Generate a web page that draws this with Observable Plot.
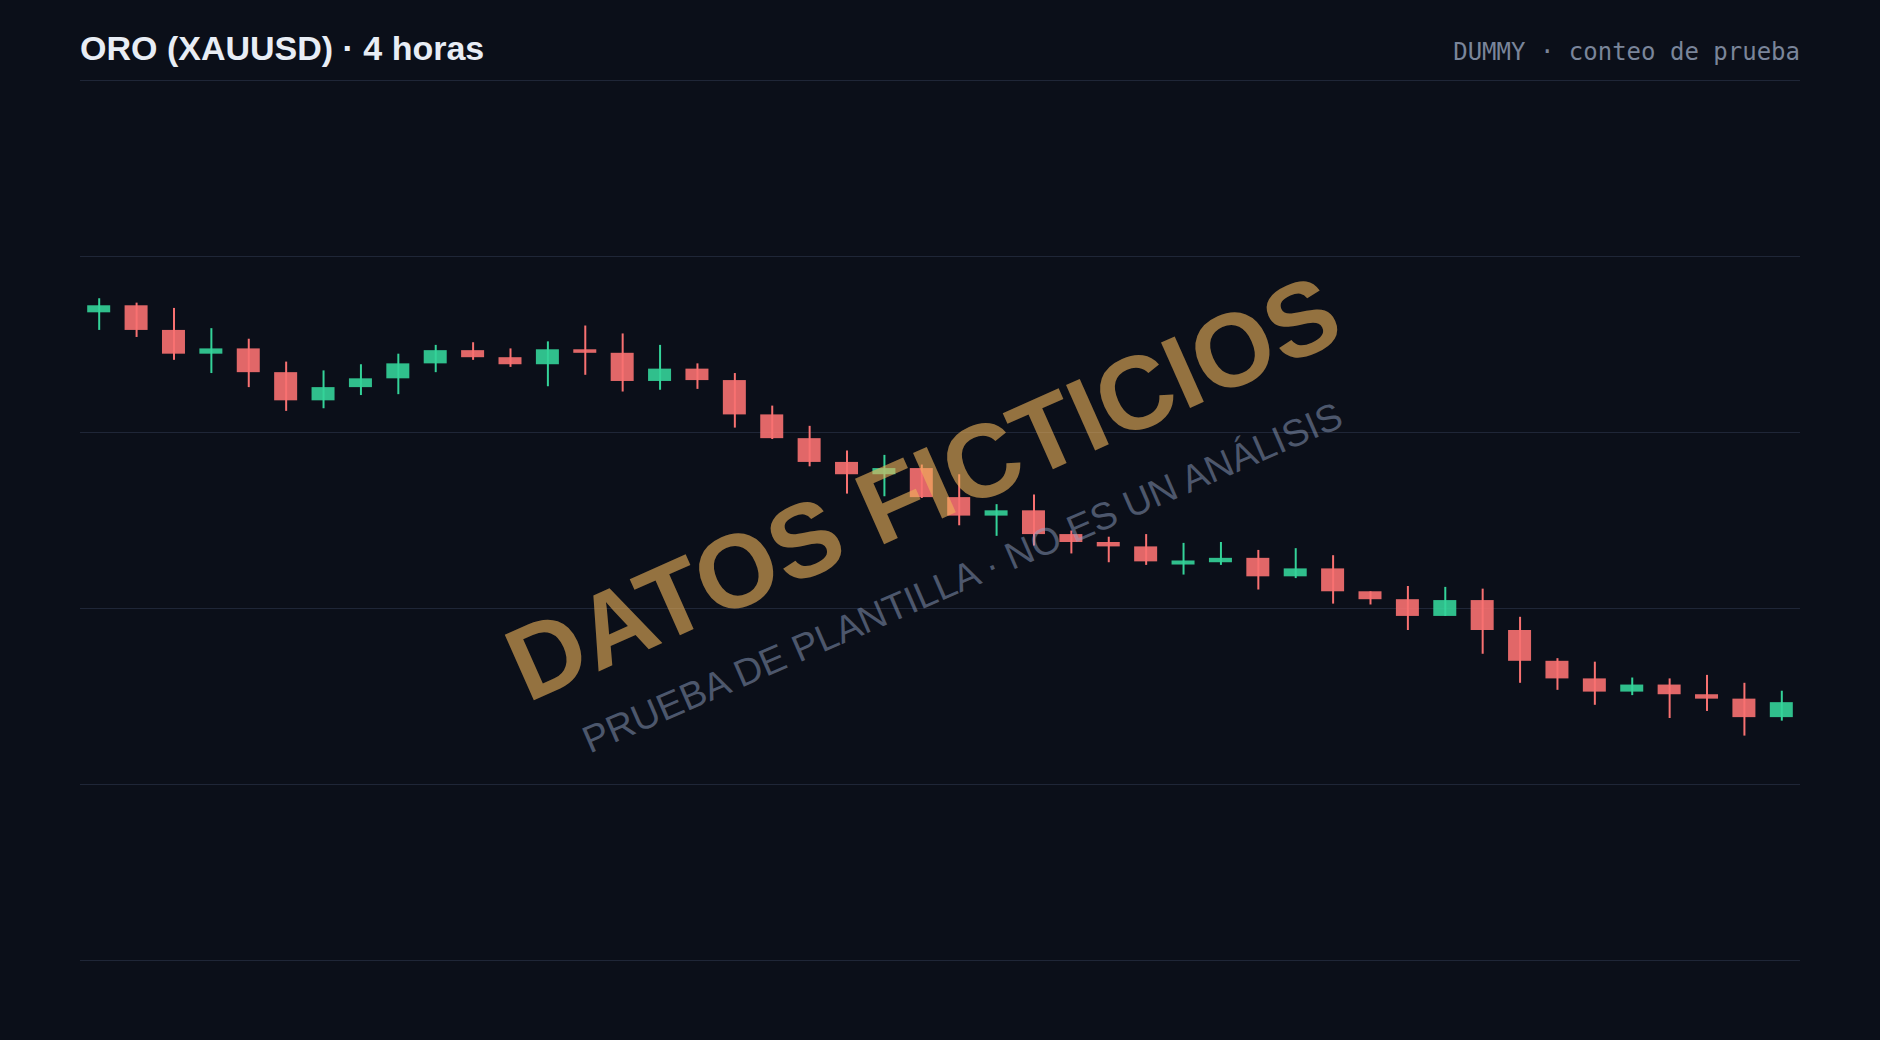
<!DOCTYPE html>
<html lang="es">
<head>
<meta charset="utf-8">
<title>ORO (XAUUSD) · 4 horas</title>
<script src="https://cdn.jsdelivr.net/npm/d3@7"></script>
<script src="https://cdn.jsdelivr.net/npm/@observablehq/plot@0.6"></script>
<style>
  html, body { margin: 0; padding: 0; background: #0b0f19; }
  #wrap { width: 1880px; }
  #header { position: relative; height: 70px; }
  #titulo {
    position: absolute; left: 80px; top: 31px;
    font-family: "Liberation Sans", Arial, Helvetica, sans-serif;
    font-weight: 700; font-size: 34px; line-height: 34px;
    color: #e8edf5; white-space: nowrap;
  }
  #subtitulo {
    position: absolute; right: 80px; top: 39.7px;
    font-family: "DejaVu Sans Mono", "Liberation Mono", monospace;
    font-size: 24px; line-height: 24px;
    color: #7a859a; white-space: nowrap;
  }
  #chart svg { display: block; }
</style>
</head>
<body>
<div id="wrap">
  <div id="header">
    <div id="titulo">ORO (XAUUSD) · 4 horas</div>
    <div id="subtitulo">DUMMY · conteo de prueba</div>
  </div>
  <div id="chart"></div>
</div>
<script>
// --- Datos ---
const apertura = [
  2366.8, 2367.2, 2365.8, 2364.45, 2364.75, 2363.4, 2361.8, 2362.55, 2363.05, 2363.9,
  2364.65, 2364.25, 2363.85, 2364.7, 2364.5, 2362.9, 2363.6, 2362.95, 2361.0, 2359.65,
  2358.3, 2357.6, 2357.95, 2356.3, 2355.25, 2355.55, 2354.2, 2353.75, 2353.5, 2352.47,
  2352.6, 2352.85, 2351.8, 2352.25, 2350.95, 2350.5, 2349.55, 2350.45, 2348.75, 2347.0,
  2346.0, 2345.25, 2345.65, 2345.1, 2344.85, 2343.8
];
const maximo = [
  2367.6, 2367.35, 2367.05, 2365.9, 2365.3, 2364.0, 2363.5, 2363.85, 2364.45, 2364.95,
  2365.1, 2364.75, 2365.15, 2366.05, 2365.6, 2364.95, 2363.9, 2363.35, 2361.5, 2360.35,
  2358.95, 2358.7, 2358.15, 2357.6, 2355.9, 2356.45, 2354.4, 2354.05, 2354.2, 2353.7,
  2353.75, 2353.3, 2353.4, 2353.0, 2350.95, 2351.25, 2351.2, 2351.1, 2349.5, 2347.15,
  2346.95, 2346.05, 2346.0, 2346.2, 2345.75, 2345.3
];
const minimo = [
  2365.8, 2365.4, 2364.1, 2363.35, 2362.55, 2361.2, 2361.35, 2362.1, 2362.15, 2363.4,
  2364.1, 2363.7, 2362.6, 2363.25, 2362.3, 2362.4, 2362.45, 2360.25, 2359.6, 2358.05,
  2356.5, 2356.35, 2356.25, 2354.7, 2354.1, 2353.55, 2353.1, 2352.6, 2352.45, 2351.9,
  2352.45, 2351.05, 2351.7, 2350.25, 2350.2, 2348.75, 2349.55, 2347.4, 2345.75, 2345.35,
  2344.5, 2345.05, 2343.75, 2344.15, 2342.75, 2343.6
];
const cierre = [
  2367.2, 2365.8, 2364.45, 2364.75, 2363.4, 2361.8, 2362.55, 2363.05, 2363.9, 2364.65,
  2364.25, 2363.85, 2364.7, 2364.5, 2362.9, 2363.6, 2362.95, 2361.0, 2359.65, 2358.3,
  2357.6, 2357.95, 2356.3, 2355.25, 2355.55, 2354.2, 2353.75, 2353.5, 2352.65, 2352.7,
  2352.85, 2351.8, 2352.25, 2350.95, 2350.5, 2349.55, 2350.45, 2348.75, 2347.0, 2346.0,
  2345.25, 2345.65, 2345.1, 2344.85, 2343.8, 2344.65
];
// Líneas de cuadrícula (sin etiquetas visibles)
const marcasY = [2330, 2340, 2350, 2360, 2370, 2380];
const dominioY = [2330, 2380];
// Marca de agua
const marcaAgua = "DATOS FICTICIOS";
const subMarca = "PRUEBA DE PLANTILLA · NO ES UN ANÁLISIS";

const colorSube = "#34d399";
const colorBaja = "#f87171";

const velas = apertura.map((o, i) => ({
  t: i,
  open: o,
  high: maximo[i],
  low: minimo[i],
  close: cierre[i],
  color: cierre[i] >= o ? colorSube : colorBaja
}));

const chart = Plot.plot({
  width: 1880,
  height: 970,
  marginTop: 10,
  marginBottom: 80,
  marginLeft: 80,
  marginRight: 80,
  style: {
    background: "transparent",
    color: "#e8edf5",
    fontFamily: "'Liberation Sans', Arial, Helvetica, sans-serif",
    overflow: "visible"
  },
  x: {type: "band", domain: velas.map(d => d.t), paddingInner: 0.385, paddingOuter: 0.1925, round: false, axis: null},
  y: {domain: dominioY, axis: null},
  color: {type: "identity"},
  marks: [
    Plot.gridY(marcasY, {stroke: "#1f2637", strokeOpacity: 1, strokeWidth: 1}),
    Plot.barY(velas, {x: "t", y1: "open", y2: "close", fill: "color", fillOpacity: 0.9}),
    Plot.ruleX(velas, {x: "t", y1: "low", y2: "high", stroke: "color", strokeWidth: 2}),
    Plot.text([marcaAgua], {
      frameAnchor: "middle", text: d => d, rotate: -24,
      fontSize: 104, fontWeight: 700, fill: "#f0b45a", fillOpacity: 0.6,
      textAnchor: "middle", lineAnchor: "bottom", dx: -3, dy: 0
    }),
    Plot.text([subMarca], {
      frameAnchor: "middle", text: d => d, rotate: -23.5,
      fontSize: 38, fontWeight: 400, fill: "#8fa0c0", fillOpacity: 0.5,
      textAnchor: "middle", lineAnchor: "bottom", dx: 27, dy: 69
    })
  ]
});
document.getElementById("chart").appendChild(chart);
</script>
</body>
</html>
